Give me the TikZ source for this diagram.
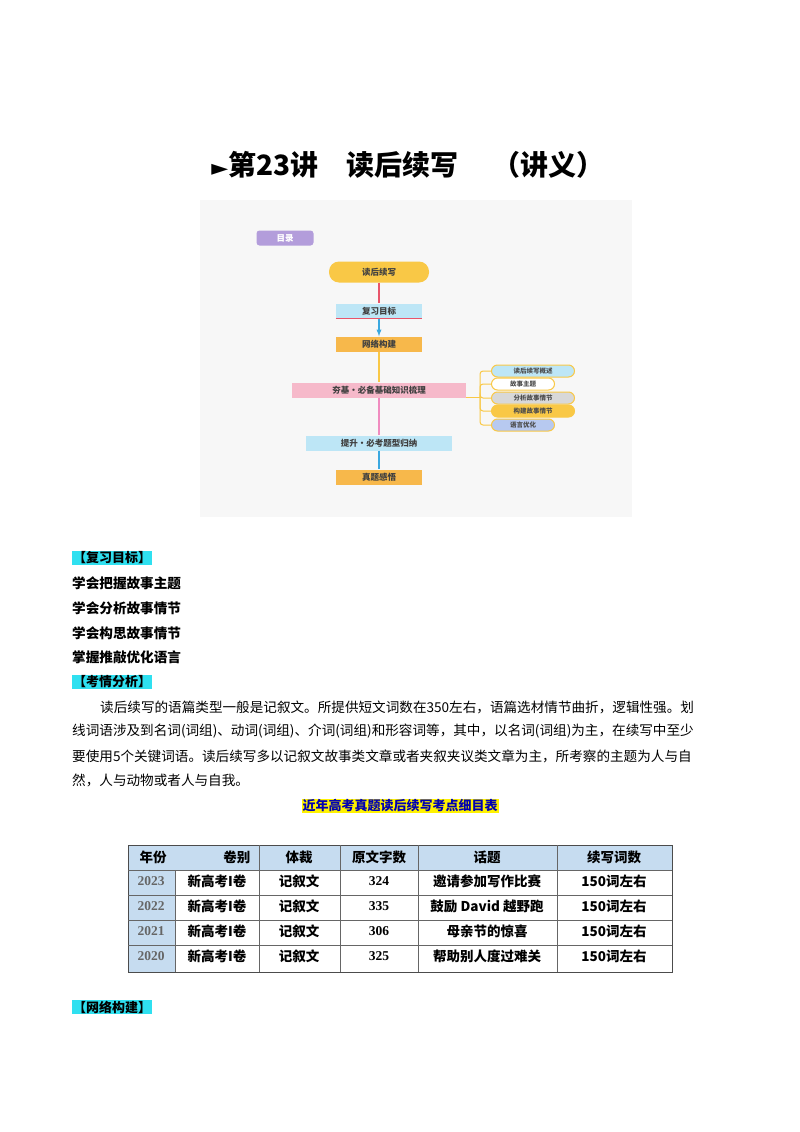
\documentclass[tikz,border=0pt]{standalone}
\usepackage{fontspec}
\setmainfont{Liberation Serif}
\newfontfamily\cjk{Noto Sans CJK SC}
\newfontfamily\dejavu{DejaVu Sans}
\definecolor{hl}{HTML}{2FE0F0}
\definecolor{pur}{HTML}{B39DDB}
\definecolor{yel}{HTML}{F9C846}
\definecolor{lb}{HTML}{BDE6F6}
\definecolor{org}{HTML}{F7B84B}
\definecolor{pnk}{HTML}{F6B9CA}
\definecolor{tb}{HTML}{C6DCF0}
\definecolor{gr}{HTML}{D8D8D8}
\definecolor{lav}{HTML}{B7C9F0}
\definecolor{lred}{HTML}{E8556A}
\definecolor{lblue}{HTML}{3AA8E0}
\definecolor{lpink}{HTML}{F08CC0}
\tikzset{
 fb/.style={minimum height=15pt,inner sep=0pt,font=\cjk\fontsize{8.5}{9}\selectfont\bfseries,text=black!75},
 sb/.style={rounded corners=6pt,minimum height=12pt,inner sep=0pt,draw=yel,line width=1pt,font=\cjk\fontsize{6.5}{7}\selectfont\bfseries,text=black!70},
 hd/.style={fill=hl,inner sep=1pt,anchor=west,font=\cjk\fontsize{13}{13}\selectfont\bfseries},
 tx/.style={anchor=west,inner sep=0pt,font=\cjk\fontsize{13.6}{14}\selectfont},
 tt/.style={font=\cjk\fontsize{13.5}{14}\selectfont\bfseries},
 cn/.style={line width=1.3pt}
}
\begin{document}
\begin{tikzpicture}[x=1pt,y=-1pt]
\useasboundingbox (0,0) rectangle (800,1132);
\fill[white] (0,0) rectangle (800,1132);
\node[font=\cjk\fontsize{28}{28}\selectfont\bfseries] (title) at (408,165) {{\dejavu\fontsize{22}{22}\selectfont ►}第23讲\quad 读后续写\quad\ （讲义）};
% flowchart
\fill[black!3] (200,200) rectangle (632,517);
\node[fb,fill=pur,rounded corners=3pt,minimum width=57pt,text=white] (ml) at (285,238) {目录};
\node[fb,fill=yel,rounded corners=10pt,minimum width=100pt,minimum height=21pt] (a) at (379,272) {读后续写};
\node[fb,fill=lb,minimum width=86pt] (b) at (379,311) {复习目标};
\node[fb,fill=org,minimum width=86pt] (c) at (379,344) {网络构建};
\node[fb,fill=pnk,minimum width=174pt] (d) at (379,390) {夯基·必备基础知识梳理};
\node[fb,fill=lb,minimum width=146pt] (e) at (379,443) {提升·必考题型归纳};
\node[fb,fill=org,minimum width=86pt] (f) at (379,477) {真题感悟};
\draw[lred,cn] (b.south west) -- (b.south east);
\draw[lred,cn] (a) -- (b);
\draw[lblue,cn,-latex] (b) -- (c);
\draw[yel,cn] (c) -- (d);
\draw[lpink,cn] (d) -- (e);
\draw[lblue,cn] (e) -- (f);
\node[sb,fill=lb,minimum width=83pt] (r1) at (533,371) {读后续写概述};
\node[sb,fill=white,minimum width=63pt] (r2) at (523,384) {故事主题};
\node[sb,fill=gr,minimum width=83pt] (r3) at (533,398) {分析故事情节};
\node[sb,fill=yel,minimum width=83pt] (r4) at (533,411) {构建故事情节};
\node[sb,fill=lav,minimum width=63pt] (r5) at (523,425) {语言优化};
\coordinate (j) at (480,397);
\draw[yel,line width=1pt] (d.east |- j) -- (j);
\foreach \r in {r1,r2,r3,r4,r5}{\draw[yel,line width=1pt,rounded corners=3pt] (j) |- (\r.west);}
% text
\node[hd] (h1) at (72,558) {【复习目标】};
\node[tx,font=\cjk\fontsize{13.6}{14}\selectfont\bfseries] (l1) at (72,583) {学会把握故事主题};
\node[tx,font=\cjk\fontsize{13.6}{14}\selectfont\bfseries] (l2) at (72,608) {学会分析故事情节};
\node[tx,font=\cjk\fontsize{13.6}{14}\selectfont\bfseries] (l3) at (72,633) {学会构思故事情节};
\node[tx,font=\cjk\fontsize{13.6}{14}\selectfont\bfseries] (l4) at (72,657) {掌握推敲优化语言};
\node[hd] (h2) at (72,682) {【考情分析】};
\node[tx] (p1) at (100,707) {读后续写的语篇类型一般是记叙文。所提供短文词数在350左右，语篇选材情节曲折，逻辑性强。划};
\node[tx] (p2) at (72,731) {线词语涉及到名词(词组)、动词(词组)、介词(词组)和形容词等，其中，以名词(词组)为主，在续写中至少};
\node[tx] (p3) at (72,756) {要使用5个关键词语。读后续写多以记叙文故事类文章或者夹叙夹议类文章为主，所考察的主题为人与自};
\node[tx] (p4) at (72,780) {然，人与动物或者人与自我。};
\node[fill=yellow,inner sep=1pt,text=blue!70!black,font=\cjk\fontsize{13}{13}\selectfont\bfseries] (tt) at (400,806) {近年高考真题读后续写考点细目表};
% table
\fill[tb] (128,845) rectangle (672,870);
\fill[tb] (128,870) rectangle (175,972);
\draw[black!70,line width=0.8pt] (128,845) rectangle (672,972);
\foreach \yy in {870,895,920,945}{\draw[black!60] (128,\yy) -- (672,\yy);}
\draw[black!60] (175,870) -- (175,972);
\foreach \xx in {259,340,418,557}{\draw[black!60] (\xx,845) -- (\xx,972);}
\node[tt,anchor=west] (c0) at (136,857) {年份};
\node[tt,anchor=east] (c1) at (254,857) {卷别};
\node[tt] (c2) at (299,857) {体裁};
\node[tt] (c3) at (379,857) {原文字数};
\node[tt] (c4) at (487,857) {话题};
\node[tt] (c5) at (614,857) {续写词数};
\foreach \yy/\yr/\n/\tp in {881/2023/324/邀请参加写作比赛,906/2022/335/鼓励 David 越野跑,931/2021/306/母亲节的惊喜,956/2020/325/帮助别人度过难关}{
 \node[tt,text=black!60,font=\fontsize{13.5}{14}\selectfont\bfseries] at (151,\yy) {\yr};
 \node[tt] at (217,\yy) {新高考I卷};
 \node[tt] at (299,\yy) {记叙文};
 \node[tt,font=\fontsize{13.5}{14}\selectfont\bfseries] at (379,\yy) {\n};
 \node[tt] at (487,\yy) {\tp};
 \node[tt] at (614,\yy) {150词左右};
}
\node[hd] (h3) at (72,1007) {【网络构建】};
\end{tikzpicture}
\end{document}
